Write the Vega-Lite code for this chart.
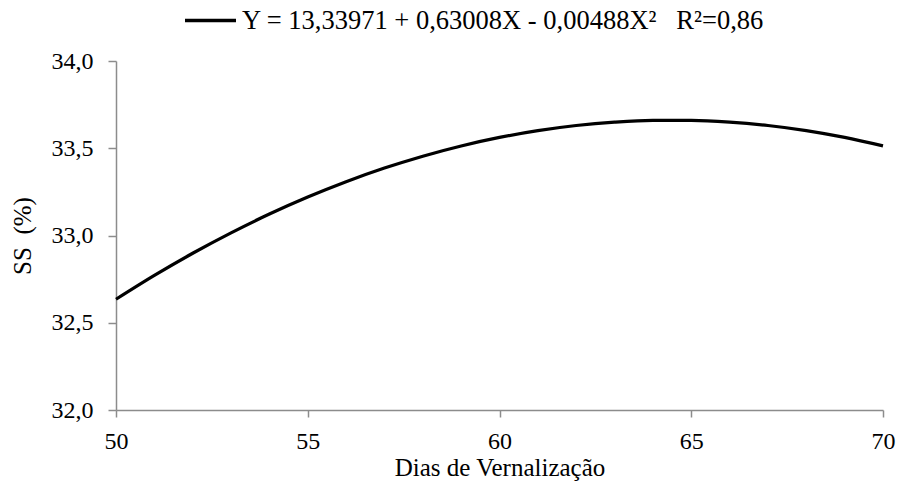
{
  "$schema": "https://vega.github.io/schema/vega-lite/v6.json",
  "width": 767,
  "height": 349,
  "autosize": {"type": "none"},
  "padding": {"left": 116, "top": 61, "right": 16, "bottom": 76},
  "background": "white",
  "config": {
    "locale": {"number": {"decimal": ",", "thousands": ".", "grouping": [3], "currency": ["", ""]}},
    "view": {"stroke": null},
    "font": "Times New Roman, Liberation Serif, serif"
  },
  "data": {"values": [
    {"dias": 50, "ss": 32.6347, "serie": "Y = 13,33971 + 0,63008X - 0,00488X²\u00a0\u00a0\u00a0R²=0,86"},
    {"dias": 51, "ss": 32.7713, "serie": "Y = 13,33971 + 0,63008X - 0,00488X²\u00a0\u00a0\u00a0R²=0,86"},
    {"dias": 52, "ss": 32.8983, "serie": "Y = 13,33971 + 0,63008X - 0,00488X²\u00a0\u00a0\u00a0R²=0,86"},
    {"dias": 53, "ss": 33.0153, "serie": "Y = 13,33971 + 0,63008X - 0,00488X²\u00a0\u00a0\u00a0R²=0,86"},
    {"dias": 54, "ss": 33.1228, "serie": "Y = 13,33971 + 0,63008X - 0,00488X²\u00a0\u00a0\u00a0R²=0,86"},
    {"dias": 55, "ss": 33.2203, "serie": "Y = 13,33971 + 0,63008X - 0,00488X²\u00a0\u00a0\u00a0R²=0,86"},
    {"dias": 56, "ss": 33.3082, "serie": "Y = 13,33971 + 0,63008X - 0,00488X²\u00a0\u00a0\u00a0R²=0,86"},
    {"dias": 57, "ss": 33.3863, "serie": "Y = 13,33971 + 0,63008X - 0,00488X²\u00a0\u00a0\u00a0R²=0,86"},
    {"dias": 58, "ss": 33.4546, "serie": "Y = 13,33971 + 0,63008X - 0,00488X²\u00a0\u00a0\u00a0R²=0,86"},
    {"dias": 59, "ss": 33.5132, "serie": "Y = 13,33971 + 0,63008X - 0,00488X²\u00a0\u00a0\u00a0R²=0,86"},
    {"dias": 60, "ss": 33.5620, "serie": "Y = 13,33971 + 0,63008X - 0,00488X²\u00a0\u00a0\u00a0R²=0,86"},
    {"dias": 61, "ss": 33.6010, "serie": "Y = 13,33971 + 0,63008X - 0,00488X²\u00a0\u00a0\u00a0R²=0,86"},
    {"dias": 62, "ss": 33.6304, "serie": "Y = 13,33971 + 0,63008X - 0,00488X²\u00a0\u00a0\u00a0R²=0,86"},
    {"dias": 63, "ss": 33.6498, "serie": "Y = 13,33971 + 0,63008X - 0,00488X²\u00a0\u00a0\u00a0R²=0,86"},
    {"dias": 64, "ss": 33.6597, "serie": "Y = 13,33971 + 0,63008X - 0,00488X²\u00a0\u00a0\u00a0R²=0,86"},
    {"dias": 65, "ss": 33.6596, "serie": "Y = 13,33971 + 0,63008X - 0,00488X²\u00a0\u00a0\u00a0R²=0,86"},
    {"dias": 66, "ss": 33.6499, "serie": "Y = 13,33971 + 0,63008X - 0,00488X²\u00a0\u00a0\u00a0R²=0,86"},
    {"dias": 67, "ss": 33.6304, "serie": "Y = 13,33971 + 0,63008X - 0,00488X²\u00a0\u00a0\u00a0R²=0,86"},
    {"dias": 68, "ss": 33.6011, "serie": "Y = 13,33971 + 0,63008X - 0,00488X²\u00a0\u00a0\u00a0R²=0,86"},
    {"dias": 69, "ss": 33.5621, "serie": "Y = 13,33971 + 0,63008X - 0,00488X²\u00a0\u00a0\u00a0R²=0,86"},
    {"dias": 70, "ss": 33.5133, "serie": "Y = 13,33971 + 0,63008X - 0,00488X²\u00a0\u00a0\u00a0R²=0,86"}
  ]},
  "mark": {"type": "line", "interpolate": "monotone", "strokeWidth": 3.2},
  "encoding": {
    "x": {
      "field": "dias", "type": "quantitative",
      "scale": {"domain": [50, 70], "nice": false, "zero": false},
      "axis": {
        "values": [50, 55, 60, 65, 70], "format": "d", "grid": false, "labelFlush": false,
        "title": "Dias de Vernalização",
        "domainColor": "#8c8c8c", "tickColor": "#8c8c8c", "tickSize": 7, "domainWidth": 1.5, "tickWidth": 1.5,
        "labelFontSize": 24, "labelColor": "black", "labelPadding": 12,
        "titleFontSize": 25, "titleColor": "black", "titleFontWeight": "normal", "titlePadding": 2
      }
    },
    "y": {
      "field": "ss", "type": "quantitative",
      "scale": {"domain": [32, 34], "nice": false, "zero": false},
      "axis": {
        "values": [32, 32.5, 33, 33.5, 34], "format": ".1f", "grid": false, "labelFlush": false,
        "title": "SS \u00a0(%)",
        "domainColor": "#8c8c8c", "tickColor": "#8c8c8c", "tickSize": 8, "domainWidth": 1.5, "tickWidth": 1.5,
        "labelFontSize": 24, "labelColor": "black", "labelPadding": 15,
        "titleFontSize": 25, "titleColor": "black", "titleFontWeight": "normal", "titlePadding": 16
      }
    },
    "color": {
      "field": "serie", "type": "nominal",
      "scale": {"range": ["black"]},
      "legend": {
        "title": null, "orient": "none", "legendX": 67, "legendY": -68,
        "symbolType": "stroke", "symbolSize": 2601, "symbolStrokeWidth": 3.3, "symbolStrokeColor": "black",
        "labelFontSize": 26.5, "labelColor": "black", "labelOffset": 4,
        "labelLimit": 800
      }
    }
  }
}
